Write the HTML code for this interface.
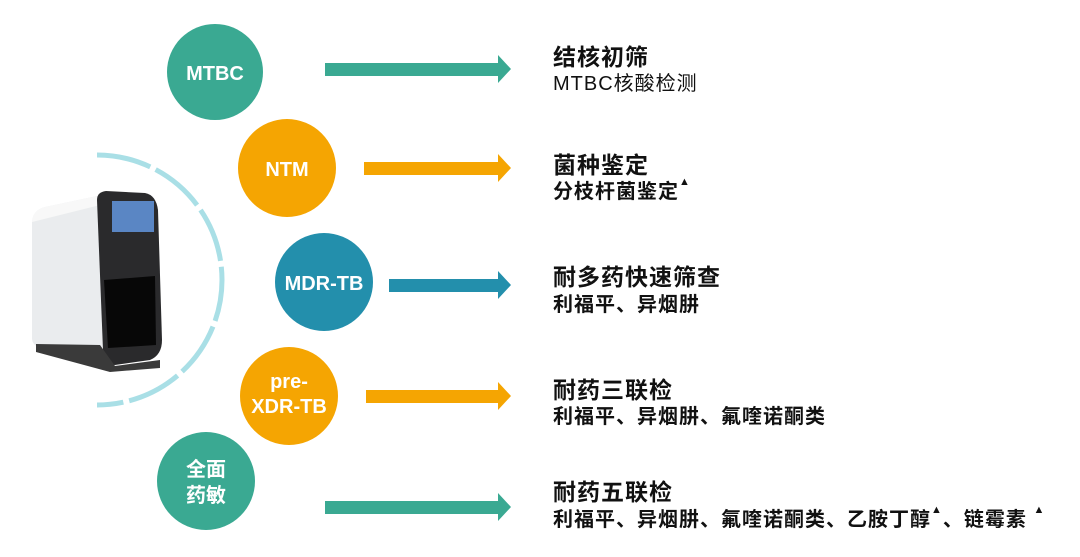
<!DOCTYPE html>
<html><head><meta charset="utf-8"><style>
html,body{margin:0;padding:0;background:#fff;}
body{width:1080px;height:557px;position:relative;overflow:hidden;font-family:"Liberation Sans","Noto Sans CJK SC",sans-serif;}
.t{position:absolute;left:553px;color:#111;white-space:nowrap;}
.t1{font-size:23px;font-weight:bold;letter-spacing:1px;}
.t2{font-size:20px;font-weight:bold;letter-spacing:1px;}
.tr{font-size:11px;vertical-align:top;position:relative;top:1px;}
</style></head><body>
<svg width="1080" height="557" style="position:absolute;left:0;top:0">
<path d="M97 155 A125 125 0 0 1 97 405" fill="none" stroke="#a9dfe6" stroke-width="5" stroke-dasharray="55 6"/>
<path d="M32 222 Q33 210 45 207 L97 196 L102 195 L104 362 L40 348 Q32 345 32 338 Z" fill="#eaecee"/>
<path d="M32 222 Q33 210 45 207 L97 196 L100 205 L40 220 Z" fill="#f8f8f8"/>
<path d="M97 200 Q97 192 106 191 L145 193 Q156 195 158 210 L162 340 Q162 355 150 360 L115 365 Q105 365 103 350 Z" fill="#2a2a2c"/>
<rect x="112" y="201" width="42" height="31" fill="#5a86c4"/>
<path d="M104 280 L155 276 L156 345 L108 348 Z" fill="#070707"/>
<path d="M100 345 L115 366 L160 360 L160 368 L110 372 L36 352 L36 344 Z" fill="#3a3a3a"/>
<circle cx="215" cy="72" r="48" fill="#3aa992"/>
<circle cx="287" cy="168" r="49" fill="#f5a502"/>
<circle cx="324" cy="282" r="49" fill="#238fac"/>
<circle cx="289" cy="396" r="49" fill="#f5a502"/>
<circle cx="206" cy="481" r="49" fill="#3aa992"/>
<g fill="#fff" font-family="Liberation Sans,Noto Sans CJK SC,sans-serif" font-weight="bold" text-anchor="middle">
<text x="215" y="80" font-size="20">MTBC</text>
<text x="287" y="176" font-size="20">NTM</text>
<text x="324" y="290" font-size="20">MDR-TB</text>
<text x="289" y="388" font-size="20">pre-</text>
<text x="289" y="413" font-size="20">XDR-TB</text>
<text x="206" y="476" font-size="20">全面</text>
<text x="206" y="502" font-size="20">药敏</text>
</g>
<path d="M325 63 H498 V55 L511 69 L498 83 V76 H325 Z" fill="#3aa992"/>
<path d="M364 162 H498 V154 L511 168 L498 182 V175 H364 Z" fill="#f5a502"/>
<path d="M389 279 H498 V271 L511 285 L498 299 V292 H389 Z" fill="#238fac"/>
<path d="M366 390 H498 V382 L511 396 L498 410 V403 H366 Z" fill="#f5a502"/>
<path d="M325 501 H498 V493 L511 507 L498 521 V514 H325 Z" fill="#3aa992"/>
</svg>
<div class="t t1" style="top:38px">结核初筛</div>
<div class="t t2" style="top:67px;font-weight:normal">MTBC核酸检测</div>
<div class="t t1" style="top:146px">菌种鉴定</div>
<div class="t t2" style="top:175px">分枝杆菌鉴定<span class="tr">▲</span></div>
<div class="t t1" style="top:258px">耐多药快速筛查</div>
<div class="t t2" style="top:288px">利福平、异烟肼</div>
<div class="t t1" style="top:371px">耐药三联检</div>
<div class="t t2" style="top:400px">利福平、异烟肼、氟喹诺酮类</div>
<div class="t t1" style="top:473px">耐药五联检</div>
<div class="t t2" style="top:503px">利福平、异烟肼、氟喹诺酮类、乙胺丁醇<span class="tr">▲</span>、链霉素 <span class="tr">▲</span></div>
</body></html>
